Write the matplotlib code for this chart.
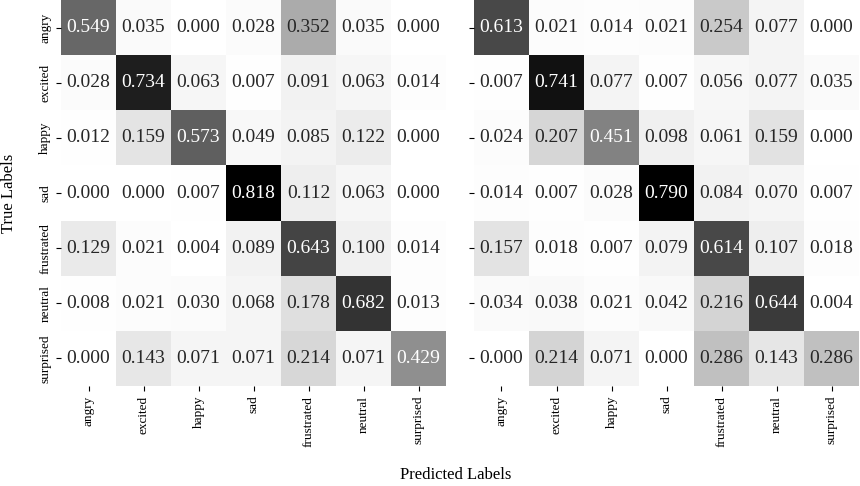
import matplotlib
matplotlib.use("Agg")
import matplotlib.pyplot as plt
import numpy as np
import seaborn as sns

plt.rcParams['font.family'] = ['Liberation Serif', 'DejaVu Serif']

labels = ["angry", "excited", "happy", "sad", "frustrated", "neutral", "surprised"]

cm_left = [
    [0.549, 0.035, 0.000, 0.028, 0.352, 0.035, 0.000],
    [0.028, 0.734, 0.063, 0.007, 0.091, 0.063, 0.014],
    [0.012, 0.159, 0.573, 0.049, 0.085, 0.122, 0.000],
    [0.000, 0.000, 0.007, 0.818, 0.112, 0.063, 0.000],
    [0.129, 0.021, 0.004, 0.089, 0.643, 0.100, 0.014],
    [0.008, 0.021, 0.030, 0.068, 0.178, 0.682, 0.013],
    [0.000, 0.143, 0.071, 0.071, 0.214, 0.071, 0.429],
]

cm_right = [
    [0.613, 0.021, 0.014, 0.021, 0.254, 0.077, 0.000],
    [0.007, 0.741, 0.077, 0.007, 0.056, 0.077, 0.035],
    [0.024, 0.207, 0.451, 0.098, 0.061, 0.159, 0.000],
    [0.014, 0.007, 0.028, 0.790, 0.084, 0.070, 0.007],
    [0.157, 0.018, 0.007, 0.079, 0.614, 0.107, 0.018],
    [0.034, 0.038, 0.021, 0.042, 0.216, 0.644, 0.004],
    [0.000, 0.214, 0.071, 0.000, 0.286, 0.143, 0.286],
]


def main():
    fig = plt.figure(figsize=(8.6, 4.86), dpi=100)
    ax_left = fig.add_axes([61 / 860, 100 / 486, 385 / 860, 386 / 486])
    ax_right = fig.add_axes([474 / 860, 100 / 486, 385 / 860, 386 / 486])

    for ax, cm in [(ax_left, cm_left), (ax_right, cm_right)]:
        sns.heatmap(np.array(cm), ax=ax, cmap="Greys", annot=True, fmt=".3f",
                    cbar=False, xticklabels=labels, yticklabels=labels,
                    annot_kws={"fontsize": 14})
        ax.tick_params(axis="both", labelsize=9.5, length=3.5)
        ax.set_xticklabels(labels, rotation=90)
        ax.set_yticklabels(labels, rotation=90, va="center")

    ax_right.set_yticklabels([])

    fig.text(9 / 860, 1 - 193 / 486, "True Labels", rotation=90,
             ha="center", va="center", fontsize=12)
    fig.text(456 / 860, 1 - 475 / 486, "Predicted Labels",
             ha="center", va="center", fontsize=12)

    fig.savefig("out.png", dpi=100)


if __name__ == "__main__":
    main()
